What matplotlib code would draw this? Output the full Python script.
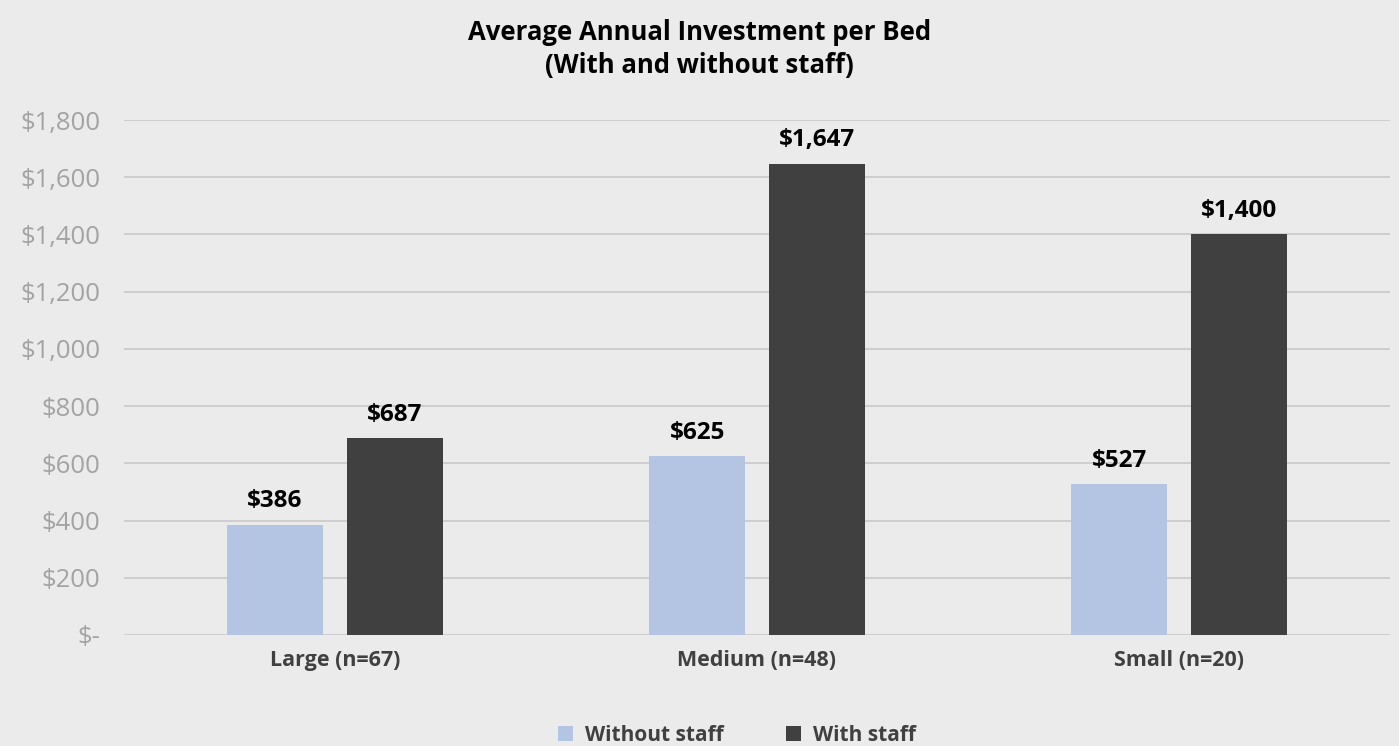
import numpy as np
import matplotlib
matplotlib.use("Agg")
import matplotlib.pyplot as plt
from matplotlib.ticker import FuncFormatter

categories = ["Large (n=67)", "Medium (n=48)", "Small (n=20)"]
without_staff = [386, 625, 527]
with_staff = [687, 1647, 1400]
series_names = ["Without staff", "With staff"]

BG = "#ebebeb"
C_LIGHT = "#b4c5e4"
C_DARK = "#404041"

plt.rcParams["font.family"] = ["Open Sans", "DejaVu Sans"]

fig = plt.figure(figsize=(13.99, 7.46), dpi=100, facecolor=BG)
ax = fig.add_axes([0.0886, 0.1488, 0.905, 0.6903], facecolor=BG)

x = np.arange(len(categories))
w = 0.2275
off = 0.142
b1 = ax.bar(x - off, without_staff, w, color=C_LIGHT, label=series_names[0], zorder=3)
b2 = ax.bar(x + off, with_staff, w, color=C_DARK, label=series_names[1], zorder=3)

# value labels above each bar
for bars, vals in ((b1, without_staff), (b2, with_staff)):
    for r, v in zip(bars, vals):
        ax.text(r.get_x() + r.get_width() / 2, v + 40, f"${v:,}",
                ha="center", va="bottom", fontsize=17.5, fontweight="bold", color="black")

ax.set_xlim(-0.5, 2.5)
ax.set_ylim(0, 1800)
ax.set_yticks(np.arange(0, 1801, 200))
ax.yaxis.set_major_formatter(FuncFormatter(lambda v, _: "$-" if v == 0 else f"${v:,.0f}"))
ax.tick_params(axis="y", length=0, pad=17, labelsize=18.5, labelcolor="#a3a3a3")
ax.set_xticks(x)
ax.set_xticklabels(categories, fontsize=15.5, fontweight="bold", color="#404040")
ax.tick_params(axis="x", length=0, pad=11)
ax.grid(axis="y", color="#c9c9c9", lw=1.2, zorder=0)
for s in ax.spines.values():
    s.set_visible(False)

fig.suptitle("Average Annual Investment per Bed\n(With and without staff)",
             y=0.975, fontsize=18.5, fontweight="bold", color="black", linespacing=1.3)

leg = fig.legend(loc="lower center", bbox_to_anchor=(0.527, -0.025), ncol=2, frameon=False,
                 handlelength=0.7, handleheight=0.7, handletextpad=0.6, columnspacing=3.0,
                 prop={"size": 15, "weight": "bold"})
for t in leg.get_texts():
    t.set_color("#404040")

fig.savefig("out.png", dpi=100, facecolor=BG)
